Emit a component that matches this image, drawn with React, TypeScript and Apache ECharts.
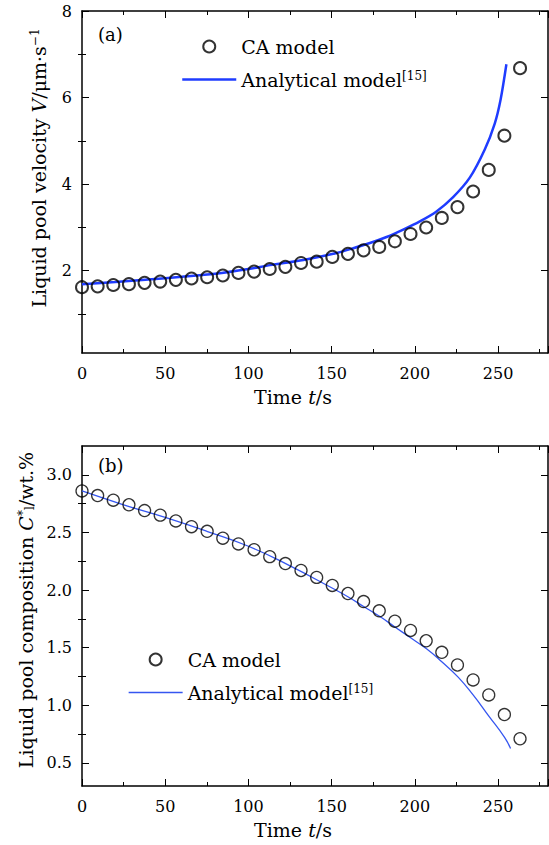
import React, { useEffect, useRef } from "react";
import * as echarts from "echarts";

const FONT = "DejaVu Serif";

// shared time stamps of CA model points (s)
const caTime = [0, 9.4, 18.8, 28.2, 37.6, 47, 56.4, 65.8, 75.2, 84.6, 94, 103.4, 112.8, 122.2, 131.6, 141, 150.4, 159.8, 169.2, 178.6, 188, 197.4, 206.8, 216.2, 225.6, 235, 244.4, 253.8, 263.2];

// (a) velocity
const caVelocity = [1.62, 1.64, 1.67, 1.69, 1.72, 1.75, 1.79, 1.82, 1.85, 1.89, 1.95, 1.98, 2.04, 2.09, 2.18, 2.21, 2.32, 2.39, 2.47, 2.55, 2.68, 2.85, 3.0, 3.22, 3.47, 3.83, 4.33, 5.12, 6.68];
const anVelTime = [0, 20, 40, 60, 80, 100, 113, 133, 153, 163, 173, 183, 193, 203, 213, 223, 233, 242, 248, 251.5, 255];
const anVelocity = [1.69, 1.74, 1.8, 1.86, 1.93, 2.04, 2.13, 2.25, 2.41, 2.52, 2.64, 2.78, 2.95, 3.14, 3.37, 3.7, 4.15, 4.8, 5.4, 5.95, 6.77];

// (b) composition
const caComp = [2.86, 2.82, 2.78, 2.74, 2.69, 2.65, 2.6, 2.55, 2.51, 2.45, 2.4, 2.35, 2.29, 2.23, 2.17, 2.11, 2.04, 1.97, 1.9, 1.82, 1.73, 1.65, 1.56, 1.46, 1.35, 1.22, 1.09, 0.92, 0.71];
const anCompTime = [0, 25, 50, 75, 100, 125, 150, 160, 169, 179, 188, 197, 207, 216, 226, 235, 244, 254, 257.5];
const anComp = [2.86, 2.74, 2.63, 2.51, 2.38, 2.21, 2.02, 1.94, 1.86, 1.77, 1.68, 1.59, 1.49, 1.38, 1.245, 1.09, 0.915, 0.72, 0.625];

const velMajor = [2, 4, 6, 8];
const velMinor = [1, 3, 5, 7];
const compMajor = [0.5, 1.0, 1.5, 2.0, 2.5, 3.0];
const compMinor = [0.75, 1.25, 1.75, 2.25, 2.75];

const legendLabels: Record<string, string> = {
  caA: "CA model",
  anA: "Analytical model{sup|[15]}",
  caB: "CA model",
  anB: "Analytical model{sup|[15]}",
};

const zip = (a: number[], b: number[]) => a.map((v, i) => [v, b[i]]);

const richText = {
  n: { fontFamily: FONT, fontSize: 19, color: "#000" },
  i: { fontFamily: FONT, fontSize: 19, fontStyle: "italic", color: "#000" },
  sup: { fontFamily: FONT, fontSize: 12, verticalAlign: "top", color: "#000" },
  sub: { fontFamily: FONT, fontSize: 12, verticalAlign: "bottom", color: "#000" },
};

const axisLine = { show: true, onZero: false, lineStyle: { color: "#000", width: 1.5 } };

function xAxes(grid: number) {
  const base = {
    type: "value",
    gridIndex: grid,
    min: 0,
    max: 280,
    interval: 50,
    splitLine: { show: false },
    axisLine,
    axisTick: { show: true, inside: true, length: 7, lineStyle: { color: "#000", width: 1 } },
    minorTick: { show: true, splitNumber: 2, length: 4, lineStyle: { color: "#000", width: 1 } },
  };
  return [
    {
      ...base,
      position: "bottom",
      name: "{n|Time }{i|t}{n|/s}",
      nameLocation: "middle",
      nameGap: 34,
      nameTextStyle: { rich: richText, padding: [0, 44, 0, 0] },
      axisLabel: {
        show: true,
        margin: 12,
        fontFamily: FONT,
        fontSize: 16,
        color: "#000",
        showMaxLabel: false,
      },
    },
    { ...base, position: "top", axisLabel: { show: false } },
  ];
}

function yAxes(
  grid: number,
  min: number,
  max: number,
  major: number[],
  minor: number[],
  name: string,
  namePad: number,
  fmt: (v: number) => string
) {
  const base = {
    type: "value",
    gridIndex: grid,
    min,
    max,
    splitLine: { show: false },
  };
  const majorTick = { show: true, inside: true, length: 7, customValues: major, lineStyle: { color: "#000", width: 1 } };
  const minorTick = { show: true, inside: true, length: 4, customValues: minor, lineStyle: { color: "#000", width: 1 } };
  return [
    {
      ...base,
      position: "left",
      axisLine,
      axisTick: majorTick,
      name,
      nameLocation: "middle",
      nameGap: 34,
      nameTextStyle: { rich: richText, padding: [0, 0, 0, namePad] },
      axisLabel: {
        show: true,
        margin: 10,
        fontFamily: FONT,
        fontSize: 16,
        color: "#000",
        customValues: major,
        formatter: fmt,
      },
    },
    { ...base, position: "left", axisLine: { show: false }, axisTick: minorTick, axisLabel: { show: false } },
    { ...base, position: "right", axisLine, axisTick: majorTick, axisLabel: { show: false } },
    { ...base, position: "right", axisLine: { show: false }, axisTick: minorTick, axisLabel: { show: false } },
  ];
}

export default function App() {
  const ref = useRef<HTMLDivElement>(null);

  useEffect(() => {
    if (!ref.current) return;
    const chart = echarts.init(ref.current, undefined, { renderer: "svg" });

    const legendBase = {
      orient: "vertical",
      itemWidth: 54,
      itemHeight: 12,
      itemGap: 14,
      selectedMode: false,
      formatter: (n: string) => legendLabels[n] ?? n,
      textStyle: { fontFamily: FONT, fontSize: 19, color: "#000", rich: { sup: richText.sup } },
    };
    const hideDot = { opacity: 0, color: "rgba(0,0,0,0)", borderWidth: 0 };

    chart.setOption({
      animation: false,
      backgroundColor: "#fff",
      grid: [
        { left: 82, top: 11, width: 466, height: 342 },
        { left: 82, top: 446, width: 466, height: 340 },
      ],
      xAxis: [...xAxes(0), ...xAxes(1)],
      yAxis: [
        ...yAxes(
          0,
          0.1,
          8,
          velMajor,
          velMinor,
          "{n|Liquid pool velocity }{i|V}{n|/μm·s}{sup|−1}",
          28,
          (v: number) => String(Math.round(v))
        ),
        ...yAxes(
          1,
          0.3,
          3.25,
          compMajor,
          compMinor,
          "{n|Liquid pool composition }{i|C}{sup|*}{sub|l}{n|/wt.%}",
          12,
          (v: number) => v.toFixed(1)
        ),
      ],
      legend: [
        {
          ...legendBase,
          left: 176,
          top: 32,
          data: [
            { name: "caA" },
            { name: "anA", itemStyle: hideDot, lineStyle: { color: "#1f3cff", width: 2.5 } },
          ],
        },
        {
          ...legendBase,
          left: 123,
          top: 645,
          data: [
            { name: "caB" },
            { name: "anB", itemStyle: hideDot, lineStyle: { color: "#3556f0", width: 1.3 } },
          ],
        },
      ],
      graphic: [
        { type: "text", left: 98, top: 25, style: { text: "(a)", fontFamily: FONT, fontSize: 18, fill: "#000" } },
        { type: "text", left: 98, top: 456, style: { text: "(b)", fontFamily: FONT, fontSize: 18, fill: "#000" } },
      ],
      series: [
        {
          name: "anA",
          type: "line",
          xAxisIndex: 0,
          yAxisIndex: 0,
          data: zip(anVelTime, anVelocity),
          smooth: 0.3,
          symbol: "none",
          showSymbol: false,
          lineStyle: { color: "#1f3cff", width: 2.5 },
          itemStyle: { color: "#1f3cff" },
          z: 2,
        },
        {
          name: "caA",
          type: "scatter",
          xAxisIndex: 0,
          yAxisIndex: 0,
          data: zip(caTime, caVelocity),
          symbol: "circle",
          symbolSize: 12,
          itemStyle: { color: "rgba(0,0,0,0)", borderColor: "#000", borderWidth: 2 },
          z: 3,
        },
        {
          name: "anB",
          type: "line",
          xAxisIndex: 2,
          yAxisIndex: 4,
          data: zip(anCompTime, anComp),
          smooth: 0.5,
          symbol: "none",
          showSymbol: false,
          lineStyle: { color: "#3556f0", width: 1.3 },
          itemStyle: { color: "#3556f0" },
          z: 2,
        },
        {
          name: "caB",
          type: "scatter",
          xAxisIndex: 2,
          yAxisIndex: 4,
          data: zip(caTime, caComp),
          symbol: "circle",
          symbolSize: 12,
          itemStyle: { color: "rgba(0,0,0,0)", borderColor: "#000", borderWidth: 1.3 },
          z: 3,
        },
      ],
    });

    return () => chart.dispose();
  }, []);

  return (
    <div
      ref={ref}
      style={{ position: "absolute", left: 0, top: 0, width: 549, height: 845, background: "#fff" }}
    />
  );
}
